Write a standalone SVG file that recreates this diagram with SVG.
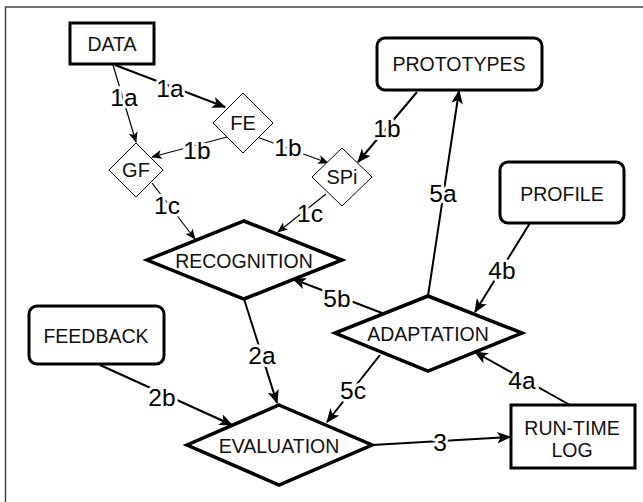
<svg xmlns="http://www.w3.org/2000/svg" width="643" height="502" viewBox="0 0 643 502">
<defs>
<marker id="ah" viewBox="0 0 12 10" refX="11" refY="5" markerWidth="14" markerHeight="12" markerUnits="userSpaceOnUse" orient="auto">
<path d="M0,0 L12,5 L0,10 L3,5 z" fill="#000"/>
</marker>
<marker id="ahs" viewBox="0 0 12 10" refX="11" refY="5" markerWidth="11" markerHeight="9" markerUnits="userSpaceOnUse" orient="auto">
<path d="M0,0 L12,5 L0,10 L3,5 z" fill="#000"/>
</marker>
</defs>
<style>
.frame{fill:none;stroke:#444;stroke-width:1.5}
.box{fill:#fff;stroke:#000;stroke-width:3}
.dthick{fill:#fff;stroke:#000;stroke-width:3.5;stroke-linejoin:miter}
.dthin{fill:#fff;stroke:#000;stroke-width:1}
.nt{font-family:"Liberation Sans",Arial,sans-serif;font-size:19.5px;fill:#111;text-anchor:middle;dominant-baseline:central}
.st{font-family:"Liberation Sans",Arial,sans-serif;font-size:20px;fill:#111;text-anchor:middle;dominant-baseline:central}
.c{fill:none;stroke:#000;stroke-width:2;marker-end:url(#ah)}
.cs{fill:none;stroke:#000;stroke-width:1.2;marker-end:url(#ahs)}
.lb{font-family:"Liberation Sans",Arial,sans-serif;font-size:24.5px;fill:#000;text-anchor:middle;dominant-baseline:central;stroke:#fff;stroke-width:6;paint-order:stroke;stroke-linejoin:round}
</style>
<rect width="643" height="502" fill="#fff"/>
<path class="frame" d="M5.5,502 V7 H643"/>

<g id="connectors">
<line class="cs" x1="113" y1="65" x2="136" y2="142"/>
<line class="c" x1="115" y1="65" x2="225" y2="107"/>
<line class="cs" x1="227" y1="137" x2="152" y2="157"/>
<line class="cs" x1="257" y1="137" x2="328" y2="163"/>
<line class="c" x1="417" y1="92" x2="358" y2="162"/>
<line class="cs" x1="152" y1="183" x2="195" y2="239"/>
<line class="cs" x1="326" y1="194" x2="278" y2="232"/>
<line class="c" x1="244" y1="299" x2="277" y2="403"/>
<line class="c" x1="100" y1="365" x2="232" y2="425"/>
<line class="c" x1="372" y1="445" x2="510" y2="437"/>
<line class="c" x1="570" y1="405" x2="475" y2="352"/>
<line class="c" x1="530" y1="223" x2="475" y2="312"/>
<line class="c" x1="428" y1="296" x2="459" y2="91"/>
<line class="c" x1="382" y1="313" x2="293" y2="279"/>
<line class="c" x1="380" y1="355" x2="327" y2="422"/>
<text class="lb" x="124" y="97">1a</text>
<text class="lb" x="170" y="88">1a</text>
<text class="lb" x="197" y="150">1b</text>
<text class="lb" x="288" y="147">1b</text>
<text class="lb" x="387" y="128">1b</text>
<text class="lb" x="167" y="205">1c</text>
<text class="lb" x="310" y="213">1c</text>
<text class="lb" x="262" y="355">2a</text>
<text class="lb" x="162" y="397">2b</text>
<text class="lb" x="440" y="442">3</text>
<text class="lb" x="522" y="380">4a</text>
<text class="lb" x="502" y="270">4b</text>
<text class="lb" x="443" y="193">5a</text>
<text class="lb" x="337" y="298">5b</text>
<text class="lb" x="353" y="390">5c</text>
</g>

<g id="data">
<rect class="box" x="70" y="23" width="84" height="41"/>
<text class="nt" x="112" y="44">DATA</text>
</g>
<g id="fe">
<polygon class="dthin" points="243,93 273,123 243,153 213,123"/>
<text class="st" x="243" y="123">FE</text>
</g>
<g id="gf">
<polygon class="dthin" points="136,143 163,170 136,197 109,170"/>
<text class="st" x="136" y="170">GF</text>
</g>
<g id="spi">
<polygon class="dthin" points="342,148 372,177 342,206 312,177"/>
<text class="st" x="342" y="177">SPi</text>
</g>
<g id="prototypes">
<rect class="box" x="377" y="38" width="165" height="52" rx="8"/>
<text class="nt" x="459" y="64">PROTOTYPES</text>
</g>
<g id="profile">
<rect class="box" x="500" y="162" width="124" height="61" rx="8"/>
<text class="nt" x="562" y="194">PROFILE</text>
</g>
<g id="recognition">
<polygon class="dthick" points="244,221 342,260 244,299 147,260"/>
<text class="nt" x="244" y="261">RECOGNITION</text>
</g>
<g id="adaptation">
<polygon class="dthick" points="428,296 522,333 428,371 335,333"/>
<text class="nt" x="428" y="334">ADAPTATION</text>
</g>
<g id="feedback">
<rect class="box" x="29" y="306" width="135" height="58" rx="8"/>
<text class="nt" x="96" y="336">FEEDBACK</text>
</g>
<g id="evaluation">
<polygon class="dthick" points="279,405 372,445 279,485 187,445"/>
<text class="nt" x="279" y="446">EVALUATION</text>
</g>
<g id="runtimelog">
<rect class="box" x="511" y="405" width="124" height="63"/>
<text class="nt" x="572" y="428">RUN-TIME</text>
<text class="nt" x="572" y="450">LOG</text>
</g>
</svg>
